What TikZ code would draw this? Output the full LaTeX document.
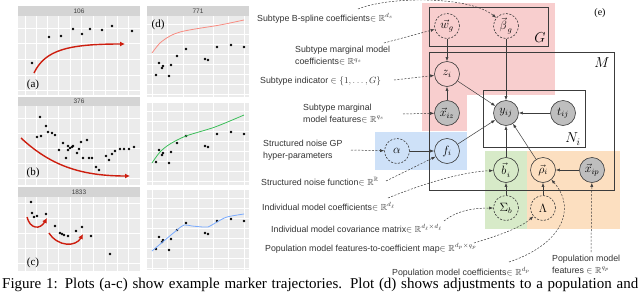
\documentclass[tikz,border=0pt]{standalone}
\usepackage{amsmath,amssymb}
\usepackage[no-math]{fontspec}
\setmainfont{Liberation Serif}
\newfontfamily\labfont{Liberation Sans}
\usetikzlibrary{arrows.meta}
\definecolor{pinkreg}{RGB}{248,206,206}
\definecolor{bluereg}{RGB}{206,225,248}
\definecolor{greenreg}{RGB}{215,234,200}
\definecolor{orangereg}{RGB}{252,223,192}
\definecolor{nodegray}{RGB}{190,190,190}
\definecolor{ggbg}{RGB}{235,235,235}
\definecolor{ggstrip}{RGB}{212,212,212}
\definecolor{ggred}{RGB}{205,30,15}
\definecolor{ggpink}{RGB}{248,140,130}
\definecolor{gggreen}{RGB}{60,190,90}
\definecolor{ggblue}{RGB}{120,170,255}
\definecolor{linegray}{RGB}{60,60,60}
\newcommand\ggpanel[8]{%
  \fill[ggbg] (#1,#2) rectangle (#3,#4);
  \foreach \vx in {#6} {\draw[white, line width=0.4pt] (\vx,#2) -- (\vx,#4);}
  \foreach \hy in {#8} {\draw[white, line width=0.4pt] (#1,\hy) -- (#3,\hy);}
  \foreach \vx in {#5} {\draw[white, line width=0.9pt] (\vx,#2) -- (\vx,#4);}
  \foreach \hy in {#7} {\draw[white, line width=0.9pt] (#1,\hy) -- (#3,\hy);}
}
\newcommand\tallvec[1]{\vec{\vphantom{\beta}\smash{#1}\mkern1mu}}
\begin{document}
\begin{tikzpicture}[x=1pt,y=-1pt,
  pgm/.style={circle, minimum size=25pt, inner sep=0pt, draw=linegray, line width=0.6pt, font=\fontsize{12}{14}\selectfont},
  obs/.style={pgm, fill=nodegray},
  hyp/.style={pgm, dash pattern=on 2pt off 1.5pt},
  plate/.style={draw=linegray, line width=0.7pt},
  edge/.style={-{Latex[length=4pt,width=3pt]}, line width=0.5pt, draw=linegray},
  ann/.style={-{Latex[length=4pt,width=3pt]}, dash pattern=on 2pt off 1.5pt, line width=0.5pt, draw=linegray},
  lab/.style={font=\labfont\fontsize{8.8}{12}\selectfont, inner sep=0pt, anchor=west, align=left, text=black!80},
  strip/.style={font=\labfont\fontsize{6.5}{7}\selectfont, inner sep=0pt, text=black!75},
  plab/.style={font=\fontsize{11}{12}\selectfont, inner sep=0pt},
  redarr/.style={ggred, line width=1.4pt, -{Latex[length=5pt,width=5pt]}},
  dot/.style={fill=black}
]
\useasboundingbox (0,0) rectangle (640,295);
\fill[white] (0,0) rectangle (640,295);

% ---------- ggplot panels, left column ----------
\fill[ggstrip] (18,6) rectangle (140,16);
\node[strip] (h106) at (79,11) {106};
\ggpanel{18}{16}{140}{95}{25,47,70,93,117}{36,58,81,105,128}{28,59,90}{43,75}
\fill[ggstrip] (18,97) rectangle (140,106);
\node[strip] (h376) at (79,101.5) {376};
\ggpanel{18}{106}{140}{185}{25,47,70,93,117}{36,58,81,105,128}{118,148,178}{133,163}
\fill[ggstrip] (18,187) rectangle (140,197);
\node[strip] (h1833) at (79,192) {1833};
\ggpanel{18}{197}{140}{271}{25,47,70,93,117}{36,58,81,105,128}{203,233,263}{218,248}

% ---------- right column ----------
\fill[ggstrip] (147,6) rectangle (249,16);
\node[strip] (h771) at (198,11) {771};
\ggpanel{147}{16}{249}{97}{152,183,213,244}{167.5,198,228.5}{34,54,74,94}{24,44,64,84}
\ggpanel{147}{103}{249}{185}{152,183,213,244}{167.5,198,228.5}{121,141,161,181}{111,131,151,171}
\ggpanel{147}{190}{249}{270}{152,183,213,244}{167.5,198,228.5}{208,228,248,268}{198,218,238,258}

% points panel a
\foreach \p in {(32,63),(49,37),(61,36),(73,29),(82,34),(90,29),(102,30),(112,26),(132,31)}
  \fill[dot] \p circle (1.4pt);
\draw[redarr] (34,73) .. controls (45,50) and (68,44) .. (125,44);
\node[plab] (pa) at (33,85) {(a)};

% points panel b
\foreach \p in {(40,117),(46,126),(37,137),(41,136),(48,132),(52,133),(55,135),(63,143),(59,150),(68,146),(70,148),(72,147),(73,146),(68,150),(77,153),(81,142),(87,140),(79,149),(66,158),(83,158),(89,158),(92,158),(96,167),(99,170),(106,156),(109,160),(112,154),(115,151),(120,149),(124,149),(129,149),(134,147)}
  \fill[dot] \p circle (1.4pt);
\draw[redarr] (21,138) .. controls (50,165) and (80,176) .. (130,176);
\node[plab] (pb) at (33,173) {(b)};

% points panel c
\foreach \p in {(31,202),(32,213),(34,217),(37,216),(46,214),(55,226),(60,233),(62,234),(64,235),(68,236),(76,231),(82,227),(91,236),(110,254)}
  \fill[dot] \p circle (1.4pt);
\draw[redarr] (27,217) .. controls (30,229) and (40,230) .. (47,218);
\draw[redarr] (49,233) .. controls (58,247) and (76,247) .. (83,234);
\node[plab] (pc) at (33,263) {(c)};

% right column points
\foreach \dy in {0,87,174}
  \foreach \px/\py in {156/75,159/63,162/68,163/66,169/76,171/65,177/56,186/49,205/59,208/60,217/47,231/45,244/47}
    \fill[dot] (\px,\py+\dy) circle (1.4pt);
\draw[ggpink, line width=0.8pt] plot[smooth] coordinates {(152,53) (160,43) (170,36) (180,32) (195,29) (220,25) (244,20)};
\draw[gggreen, line width=0.8pt] plot[smooth] coordinates {(152,163) (160,152) (170,144) (186,136) (215,127) (244,115)};
\draw[ggblue, line width=0.8pt] plot[smooth] coordinates {(152,251) (165,240) (177,230) (184,225) (192,226) (203,227) (208,227) (217,222) (227,217) (244,214)};
\node[plab] (pd) at (158,25) {(d)};

% ---------- graphical model ----------
\fill[pinkreg] (422,3) rectangle (555,95);
\fill[pinkreg] (422,95) rectangle (467,131);
\fill[bluereg] (375,132) rectangle (467,170);
\fill[greenreg] (485,151) rectangle (527,229);
\fill[orangereg] (527,151) rectangle (620,229);

\draw[plate] (429,7) rectangle (548,46);
\draw[plate] (429,52) rectangle (614,190);
\draw[plate] (483,90) rectangle (585,147);
\node[font=\fontsize{14}{15}\selectfont, inner sep=0pt] (lG) at (540,38) {$G$};
\node[font=\fontsize{14}{15}\selectfont, inner sep=0pt] (lM) at (602,63) {$M$};
\node[font=\fontsize{14}{15}\selectfont, inner sep=0pt] (lN) at (573,139) {$N_i$};
\node[font=\fontsize{10}{12}\selectfont, inner sep=0pt] (le) at (600,13) {(e)};

\node[hyp] (w) at (447,26) {$\vec{w}_g$};
\node[hyp] (beta) at (506,26) {$\tallvec{\beta}_g$};
\node[pgm] (z) at (447,74) {$z_i$};
\node[obs] (xiz) at (447,113) {$\vec{x}_{iz}$};
\node[obs] (y) at (506,113) {$y_{ij}$};
\node[obs] (t) at (563,113) {$t_{ij}$};
\node[hyp] (alpha) at (397,151) {$\alpha$};
\node[pgm] (f) at (447,151) {$f_i$};
\node[pgm] (b) at (506,170) {$\tallvec{b}_i$};
\node[pgm] (rho) at (543,170) {$\vec{\rho}_i$};
\node[obs] (xip) at (592,170) {$\vec{x}_{ip}$};
\node[hyp] (Sigma) at (506,208) {$\Sigma_b$};
\node[hyp] (Lambda) at (543,208) {$\Lambda$};

\draw[edge] (w) -- (z);
\draw[edge] (beta) -- (y);
\draw[edge] (z) -- (y);
\draw[edge] (xiz) -- (z);
\draw[edge] (t) -- (y);
\draw[edge] (f) -- (y);
\draw[edge] (b) -- (y);
\draw[edge] (rho) -- (y);
\draw[edge] (alpha) -- (f);
\draw[edge] (xip) -- (rho);
\draw[edge] (Sigma) -- (b);
\draw[edge] (Lambda) -- (rho);

% ---------- annotation labels ----------
\node[lab] (l1) at (257,18) {Subtype B-spline coefficients$\in\mathbb{R}^{d_s}$};
\node[lab] (l2) at (295,56) {Subtype marginal model\\coefficients$\in\mathbb{R}^{q_s}$};
\node[lab] (l3) at (260,81) {Subtype indicator $\in\{1,\ldots,G\}$};
\node[lab] (l4) at (303,113.5) {Subtype marginal\\model features$\in\mathbb{R}^{q_s}$};
\node[lab] (l5) at (263,150.5) {Structured noise GP\\hyper-parameters};
\node[lab] (l6) at (261,182) {Structured noise function$\in\mathbb{R}^{\mathbb{R}}$};
\node[lab] (l7) at (262,207) {Individual model coefficients$\in\mathbb{R}^{d_\ell}$};
\node[lab] (l8) at (271,229) {Individual model covariance matrix$\in\mathbb{R}^{d_\ell\times d_\ell}$};
\node[lab] (l9) at (265,248) {Population model features-to-coefficient map$\in\mathbb{R}^{d_p\times q_p}$};
\node[lab] (l10) at (392,272) {Population model coefficients$\in\mathbb{R}^{d_p}$};
\node[lab] (l11) at (552,264.5) {Population model\\features $\in\mathbb{R}^{q_p}$};

\coordinate (s1) at (358,9);
\coordinate (s2) at (384,43);
\coordinate (s3) at (394,80);
\coordinate (s4) at (403,114);
\coordinate (s5) at (351,150);
\coordinate (s6) at (386,181);
\coordinate (s7) at (388,198);
\coordinate (s8) at (444,221);
\coordinate (s9) at (474,243);
\coordinate (s10) at (509,262);
\coordinate (s11) at (591,252);

\draw[ann] (s1) .. controls (390,-4) and (470,-4) .. (beta);
\draw[ann] (s2) -- (w);
\draw[ann] (s3) -- (z);
\draw[ann] (s4) -- (xiz);
\draw[ann] (s5) -- (alpha);
\draw[ann] (s6) -- (f);
\draw[ann] (s7) .. controls (420,185) and (460,172) .. (b);
\draw[ann] (s8) .. controls (455,212) and (470,208) .. (Sigma);
\draw[ann] (s9) .. controls (500,235) and (520,228) .. (Lambda);
\draw[ann] (s10) .. controls (560,245) and (578,210) .. (rho);
\draw[ann] (s11) -- (xip);

% ---------- caption ----------
\node[anchor=north west, inner sep=0pt, font=\fontsize{15}{17}\selectfont] (cap) at (2,278)
  {\hbox to 636pt{Figure 1: Plots (a-c) show example marker trajectories. Plot (d) shows adjustments to a population and}};
\end{tikzpicture}
\end{document}
